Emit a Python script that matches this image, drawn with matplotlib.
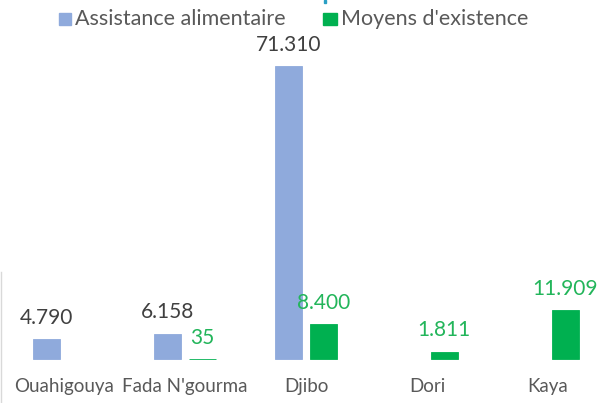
import matplotlib
matplotlib.use("Agg")
import matplotlib.pyplot as plt
from matplotlib.patches import Rectangle
from matplotlib.lines import Line2D
import numpy as np

categories = ["Ouahigouya", "Fada N'gourma", "Djibo", "Dori", "Kaya"]
assistance = [4790, 6158, 71310, None, None]
moyens = [None, 35, 8400, 1811, 11909]
series_names = ["Assistance alimentaire", "Moyens d'existence"]

BLUE = "#8FAADC"
GREEN = "#00B050"
GREEN_TXT = "#22B55A"
DARK = "#404040"
GRAY = "#595959"
FONT = "Lato"

W, H = 598, 403
fig = plt.figure(figsize=(W / 100, H / 100), dpi=100)

# axes in pixel coords: x from 3.5 to 608.5, y baseline 359, top at 66 (=71310)
left_px, right_px = 3.5, 608.5
base_px, top_px = 359, 66
ax = fig.add_axes([left_px / W, (H - base_px) / H, (right_px - left_px) / W, (base_px - top_px) / H])
ax.set_xlim(-0.5, len(categories) - 0.5)
ax.set_ylim(0, 71310)
ax.axis("off")

x = np.arange(len(categories))
bw = 0.223
off = 0.143


def fmt(v):
    return f"{v:,}".replace(",", ".")


for i, v in enumerate(assistance):
    if v is None:
        continue
    ax.bar(x[i] - off, v, width=bw, color=BLUE, edgecolor=BLUE, linewidth=0.6, clip_on=False)
    ax.annotate(fmt(v), (x[i] - off, v), xytext=(0, 11), textcoords="offset points",
                ha="center", va="baseline", fontsize=15, color=DARK, family=FONT,
                annotation_clip=False)

for i, v in enumerate(moyens):
    if v is None:
        continue
    ax.bar(x[i] + off, v, width=bw, color=GREEN, edgecolor=GREEN, linewidth=0.6, clip_on=False)
    ax.annotate(fmt(v), (x[i] + off, v), xytext=(0, 11), textcoords="offset points",
                ha="center", va="baseline", fontsize=15, color=GREEN_TXT, family=FONT,
                annotation_clip=False)

# category labels
for i, c in enumerate(categories):
    ax.annotate(c, (x[i], 0), xytext=(0, -23.5), textcoords="offset points",
                ha="center", va="baseline", fontsize=13.5, color=GRAY, family=FONT,
                annotation_clip=False)

# legend (manual)
fig.patches.append(Rectangle((59 / W, 1 - 25 / H), 12 / W, 12 / H, transform=fig.transFigure,
                             color=BLUE, zorder=3))
fig.text(75 / W, 1 - 19 / H, series_names[0], ha="left", va="center", fontsize=15.5,
         color=GRAY, family=FONT)
fig.patches.append(Rectangle((323 / W, 1 - 25 / H), 14 / W, 12 / H, transform=fig.transFigure,
                             color=GREEN, zorder=3))
fig.text(341 / W, 1 - 19 / H, series_names[1], ha="left", va="center", fontsize=15.5,
         color=GRAY, family=FONT)

# decorative details
fig.lines.append(Line2D([0.8 / W, 0.8 / W], [0, 1 - 272 / H], transform=fig.transFigure,
                        color="#D9D9D9", linewidth=1))
fig.patches.append(Rectangle((324 / W, 1 - 2.5 / H), 2 / W, 2.5 / H, transform=fig.transFigure,
                             color="#2A9FC4", zorder=3))

fig.savefig("out.png", dpi=100, facecolor="white")
